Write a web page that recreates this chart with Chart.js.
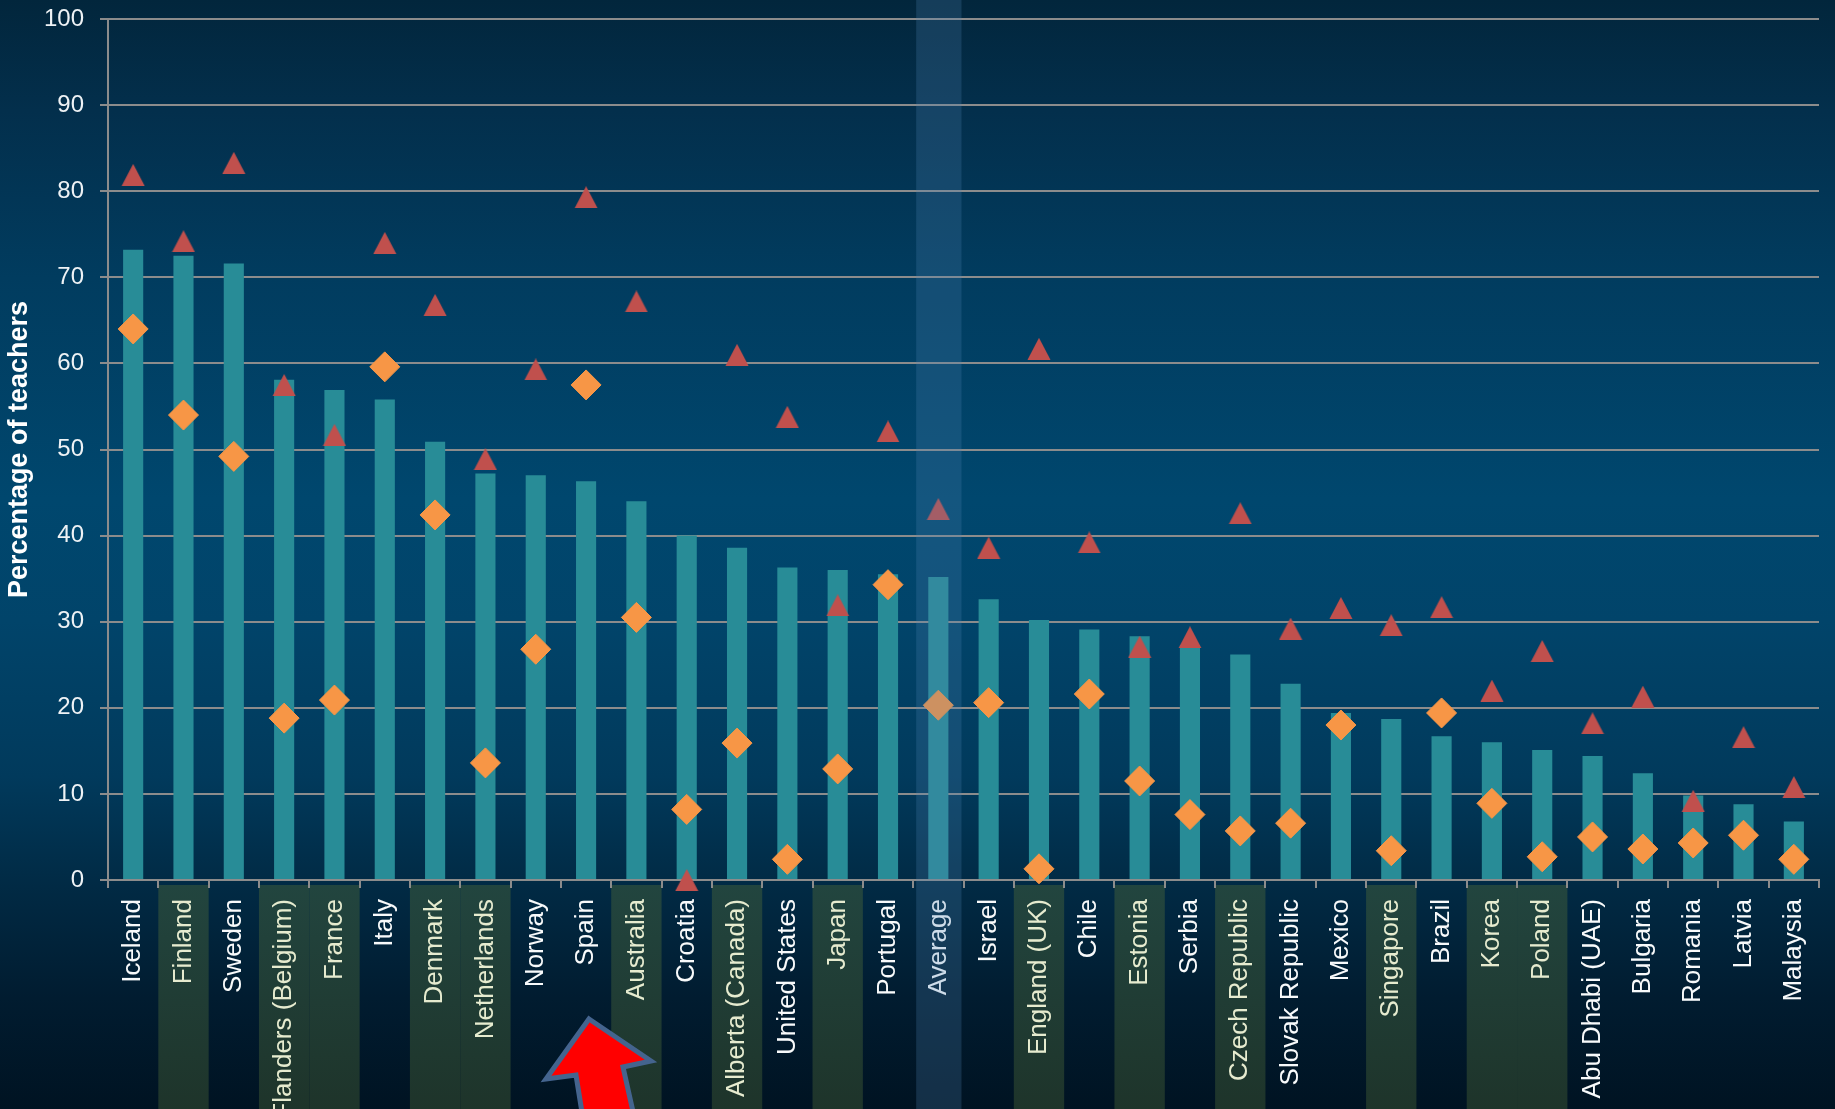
<!DOCTYPE html>
<html>
<head>
<meta charset="utf-8">
<title>Percentage of teachers</title>
<script src="https://cdn.jsdelivr.net/npm/chart.js@4.4.1/dist/chart.umd.min.js"></script>
<style>
  html, body { margin: 0; padding: 0; background: #001322; }
  #chart { display: block; }
</style>
</head>
<body>
<canvas id="chart" width="1835" height="1109"></canvas>
<script>
// Data
const countries = [
  'Iceland', 'Finland', 'Sweden', 'Flanders (Belgium)', 'France', 'Italy',
  'Denmark', 'Netherlands', 'Norway', 'Spain', 'Australia', 'Croatia',
  'Alberta (Canada)', 'United States', 'Japan', 'Portugal', 'Average', 'Israel',
  'England (UK)', 'Chile', 'Estonia', 'Serbia', 'Czech Republic', 'Slovak Republic',
  'Mexico', 'Singapore', 'Brazil', 'Korea', 'Poland', 'Abu Dhabi (UAE)',
  'Bulgaria', 'Romania', 'Latvia', 'Malaysia'
];

const barValues = [
  73.2, 72.5, 71.6, 58.1, 56.9, 55.8,
  50.9, 47.2, 47.0, 46.3, 44.0, 40.0,
  38.6, 36.3, 36.0, 35.5, 35.2, 32.6,
  30.2, 29.1, 28.3, 27.3, 26.2, 22.8,
  19.4, 18.7, 16.7, 16.0, 15.1, 14.4,
  12.4, 9.8, 8.8, 6.8
];

const diamondValues = [
  64.0, 54.0, 49.2, 18.8, 20.9, 59.6,
  42.4, 13.6, 26.8, 57.5, 30.5, 8.2,
  15.9, 2.4, 12.9, 34.3, 20.3, 20.6,
  1.3, 21.6, 11.5, 7.6, 5.7, 6.6,
  18.0, 3.4, 19.4, 8.9, 2.7, 5.0,
  3.6, 4.3, 5.2, 2.4
];

const triangleValues = [
  81.9, 74.2, 83.3, 57.5, 51.7, 74.0,
  66.8, 48.9, 59.3, 79.3, 67.2, 0.0,
  61.0, 53.8, 31.9, 52.1, 43.1, 38.6,
  61.7, 39.2, 27.1, 28.2, 42.6, 29.2,
  31.6, 29.6, 31.7, 22.0, 26.6, 18.2,
  21.3, 9.2, 16.6, 10.8
];

// categories whose labels sit on a green band
const shadedCountries = [
  'Finland', 'Flanders (Belgium)', 'France', 'Denmark', 'Netherlands', 'Australia',
  'Alberta (Canada)', 'Japan', 'England (UK)', 'Estonia', 'Czech Republic',
  'Singapore', 'Korea', 'Poland'
];

const averageLabel = 'Average';
const yMin = 0, yMax = 100, yStep = 10;

const FONT = '"Liberation Sans", Arial, sans-serif';

function makeTriangle(color) {
  const c = document.createElement('canvas');
  c.width = 24;
  c.height = 22;
  const g = c.getContext('2d');
  g.fillStyle = color;
  g.beginPath();
  g.moveTo(12, 0);
  g.lineTo(23.5, 22);
  g.lineTo(0.5, 22);
  g.closePath();
  g.fill();
  return c;
}

// background, label bands, average overlay and arrow
const decorPlugin = {
  id: 'decor',
  beforeDraw(chart) {
    const { ctx, width, height } = chart;
    const x = chart.scales.x;
    const bg = ctx.createLinearGradient(0, 0, 0, height);
    bg.addColorStop(0.00, '#02263c');
    bg.addColorStop(0.10, '#032f4c');
    bg.addColorStop(0.25, '#013c5f');
    bg.addColorStop(0.45, '#00476e');
    bg.addColorStop(0.56, '#01446a');
    bg.addColorStop(0.70, '#013a5c');
    bg.addColorStop(0.80, '#012a44');
    bg.addColorStop(0.90, '#011c30');
    bg.addColorStop(1.00, '#001322');
    ctx.save();
    ctx.fillStyle = bg;
    ctx.fillRect(0, 0, width, height);

    const step = x.width / countries.length;
    const top = chart.chartArea.bottom + 5;
    const band = ctx.createLinearGradient(0, top, 0, height);
    band.addColorStop(0, '#22453f');
    band.addColorStop(1, '#1e342a');
    ctx.fillStyle = band;
    countries.forEach((c, i) => {
      if (!shadedCountries.includes(c)) return;
      const cx = x.getPixelForValue(i);
      ctx.fillRect(cx - step / 2, top, step, height - top);
    });
    ctx.restore();
  },
  afterDraw(chart) {
    const { ctx, height } = chart;
    const x = chart.scales.x;
    const step = x.width / countries.length;
    const i = countries.indexOf(averageLabel);
    const cx = x.getPixelForValue(i);
    ctx.save();
    ctx.fillStyle = 'rgba(80, 130, 180, 0.25)';
    ctx.fillRect(cx - step / 2 + 3, 0, step - 5, height);

    // arrow pointing at Spain
    ctx.beginPath();
    ctx.moveTo(589, 1019);
    ctx.lineTo(651, 1061);
    ctx.lineTo(623, 1067);
    ctx.lineTo(636, 1125);
    ctx.lineTo(584, 1125);
    ctx.lineTo(576, 1075);
    ctx.lineTo(546, 1079);
    ctx.closePath();
    ctx.fillStyle = '#ff0000';
    ctx.fill();
    ctx.lineWidth = 5;
    ctx.lineJoin = 'miter';
    ctx.strokeStyle = '#44648e';
    ctx.stroke();
    ctx.restore();
  }
};

new Chart(document.getElementById('chart'), {
  type: 'bar',
  data: {
    labels: countries,
    datasets: [
      {
        type: 'line',
        label: 'Diamonds',
        data: diamondValues,
        showLine: false,
        pointStyle: 'rectRot',
        pointRadius: 15,
        pointBackgroundColor: '#f79646',
        pointBorderColor: '#f79646',
        pointBorderWidth: 1,
        clip: false,
        order: 1
      },
      {
        type: 'line',
        label: 'Triangles',
        data: triangleValues,
        showLine: false,
        pointStyle: makeTriangle('#c0504d'),
        pointRadius: 11,
        clip: false,
        order: 2
      },
      {
        label: 'Bars',
        data: barValues,
        backgroundColor: '#288c97',
        categoryPercentage: 0.4,
        barPercentage: 1.0,
        order: 3
      }
    ]
  },
  options: {
    responsive: false,
    animation: false,
    layout: { padding: { top: 19, right: 9, left: 0, bottom: 0 } },
    plugins: {
      legend: { display: false },
      tooltip: { enabled: false }
    },
    scales: {
      x: {
        grid: {
          offset: true,
          drawOnChartArea: false,
          drawTicks: true,
          tickLength: 8,
          color: '#8c8c8c',
          lineWidth: 2
        },
        border: { display: true, color: '#8c8c8c', width: 2 },
        ticks: {
          autoSkip: false,
          minRotation: 90,
          maxRotation: 90,
          padding: 11,
          font: { family: FONT, size: 26 },
          color: (c) => shadedCountries.includes(countries[c.index]) ? '#e6ebcf' : '#f8fafb'
        },
        afterFit(s) {
          s.height = 1109 - 880;
          s.paddingLeft = 0;
          s.paddingRight = 0;
        }
      },
      y: {
        min: yMin,
        max: yMax,
        grid: {
          color: '#8c8c8c',
          lineWidth: 2,
          tickLength: 8
        },
        border: { display: true, color: '#8c8c8c', width: 2 },
        ticks: {
          stepSize: yStep,
          padding: 16,
          font: { family: FONT, size: 24 },
          color: '#eef2f5'
        },
        title: {
          display: true,
          text: 'Percentage of teachers',
          color: '#ffffff',
          font: { family: FONT, size: 27, weight: 'bold' },
          padding: { top: 3, bottom: 0 }
        },
        afterFit(s) {
          s.width = 108;
          s.paddingTop = 0;
          s.paddingBottom = 0;
        }
      }
    }
  },
  plugins: [decorPlugin]
});
</script>
</body>
</html>
